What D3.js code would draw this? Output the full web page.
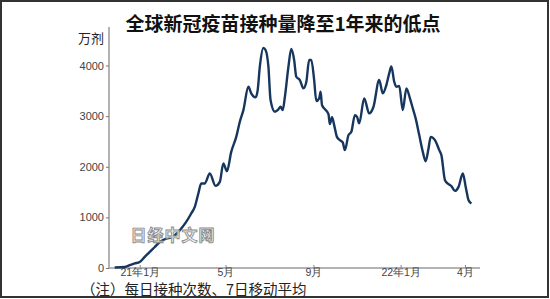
<!DOCTYPE html>
<html><head><meta charset="utf-8">
<script src="https://cdn.jsdelivr.net/npm/d3@7"></script>
<style>
html,body{margin:0;padding:0;background:#fff;}
svg{display:block;font-family:"Noto Sans CJK SC","Noto Sans",sans-serif;}
</style></head>
<body>
<svg id="c" width="550" height="299"></svg>
<script>
const titleText = "全球新冠疫苗接种量降至1年来的低点";
const unitText = "万剂";
const noteText = "（注）每日接种次数、7日移动平均";
const watermarkText = "日经中文网";

const dates = ["2020-11-27","2020-12-11","2020-12-18","2020-12-25","2021-01-01","2021-01-08","2021-01-15","2021-01-22","2021-01-29","2021-02-07","2021-02-15","2021-02-26","2021-03-07","2021-03-14","2021-03-19","2021-03-24","2021-03-28","2021-04-02","2021-04-09","2021-04-17","2021-04-23","2021-04-28","2021-05-03","2021-05-09","2021-05-16","2021-05-21","2021-05-26","2021-06-02","2021-06-06","2021-06-12","2021-06-15","2021-06-18","2021-06-23","2021-06-26","2021-06-30","2021-07-03","2021-07-09","2021-07-14","2021-07-17","2021-07-20","2021-07-23","2021-07-28","2021-08-01","2021-08-05","2021-08-08","2021-08-13","2021-08-18","2021-08-22","2021-08-26","2021-08-29","2021-09-02","2021-09-05","2021-09-09","2021-09-11","2021-09-13","2021-09-17","2021-09-22","2021-09-24","2021-09-27","2021-09-30","2021-10-04","2021-10-08","2021-10-12","2021-10-15","2021-10-20","2021-10-24","2021-10-29","2021-11-01","2021-11-04","2021-11-11","2021-11-18","2021-11-24","2021-12-02","2021-12-07","2021-12-12","2021-12-16","2021-12-19","2021-12-23","2021-12-26","2021-12-30","2022-01-04","2022-01-09","2022-01-14","2022-01-18","2022-01-22","2022-01-27","2022-02-01","2022-02-05","2022-02-09","2022-02-12","2022-02-18","2022-02-24","2022-02-27","2022-03-04","2022-03-09","2022-03-13","2022-03-18","2022-03-23","2022-03-29","2022-04-02","2022-04-06","2022-04-10"];
const doses = [10,20,55,90,120,220,320,415,514,581,607,746,910,1076,1207,1472,1669,1669,1867,1622,1701,2065,1913,2294,2591,2888,3119,3580,3450,3370,3515,3976,4346,4306,3976,3317,3086,3133,3185,3119,3376,3976,4326,4108,3778,3713,3548,3673,4108,4108,3713,3297,3351,3481,3218,3139,3040,2842,2981,2823,2585,2526,2480,2328,2625,2690,3020,2987,2856,3351,3054,3185,3713,3450,3614,3845,3980,3679,3580,3594,3119,3549,3351,3153,2955,2625,2294,2110,2362,2591,2526,2328,2229,1735,1656,1616,1523,1602,1867,1602,1339,1274];

const yTicks = [0,1000,2000,3000,4000];
const xTickDates = ["2021-01-01","2021-05-01","2021-09-01","2022-01-01","2022-04-01"];
const xTickLabels = ["21年1月","5月","9月","22年1月","4月"];

const parse = d3.timeParse("%Y-%m-%d");
const data = dates.map((d,i)=>({date:parse(d), v:doses[i]}));

const svg = d3.select("#c");

// frame
svg.append("rect").attr("x",1).attr("y",1).attr("width",547).attr("height",296)
  .attr("fill","#fff").attr("stroke","#333").attr("stroke-width",2);

const x = d3.scaleTime().domain([parse("2020-11-19"), parse("2022-04-22")]).range([109,480]);
const y = d3.scaleLinear().domain([0,4000]).range([268,65.5]);

// axes lines
svg.append("line").attr("x1",109).attr("x2",109).attr("y1",27).attr("y2",268)
  .attr("stroke","#9a9a9a").attr("stroke-width",1.5);
svg.append("line").attr("x1",109).attr("x2",480).attr("y1",268).attr("y2",268)
  .attr("stroke","#9a9a9a").attr("stroke-width",1.5);

// y axis
const yAxis = d3.axisLeft(y).tickValues(yTicks).tickSize(3).tickPadding(2).tickFormat(d3.format("d"));
const gy = svg.append("g").attr("transform","translate(109,0)").call(yAxis);
gy.select(".domain").remove();
gy.selectAll(".tick line").attr("stroke","#777");
gy.selectAll(".tick text").attr("fill","#444").style("font-size","11px")
  .style("font-family","'Liberation Sans','Noto Sans',sans-serif");

// x axis
const xAxis = d3.axisBottom(x).tickValues(xTickDates.map(parse)).tickSize(-3).tickPadding(0.5)
  .tickFormat((d,i)=>xTickLabels[i]);
const gx = svg.append("g").attr("transform","translate(0,268)").call(xAxis);
gx.select(".domain").remove();
gx.selectAll(".tick line").attr("stroke","#888");
gx.selectAll(".tick text").attr("fill","#444").style("font-size","10.5px");

// line
const line = d3.line().x(d=>x(d.date)).y(d=>y(d.v)).curve(d3.curveMonotoneX);
svg.append("path").datum(data).attr("d",line).attr("fill","none")
  .attr("stroke","#17365d").attr("stroke-width",2.4).attr("stroke-linejoin","round");

// watermark
svg.append("text").attr("x",173).attr("y",241).attr("text-anchor","middle")
  .style("font-size","16px").style("font-weight","bold")
  .attr("fill","#eeeeee").attr("fill-opacity",0.85).attr("stroke","#8a8a8a").attr("stroke-width",0.9)
  .attr("letter-spacing","1px")
  .text(watermarkText);

// title
svg.append("text").attr("x",283).attr("y",31).attr("text-anchor","middle")
  .style("font-size","19px").style("font-weight","bold").attr("fill","#111")
  .text(titleText);

// unit
svg.append("text").attr("x",104).attr("y",43).attr("text-anchor","end")
  .style("font-size","13px").attr("fill","#222").text(unitText);

// note
svg.append("text").attr("x",81).attr("y",295)
  .style("font-size","14.5px").attr("fill","#222").text(noteText);
</script>
</body></html>
